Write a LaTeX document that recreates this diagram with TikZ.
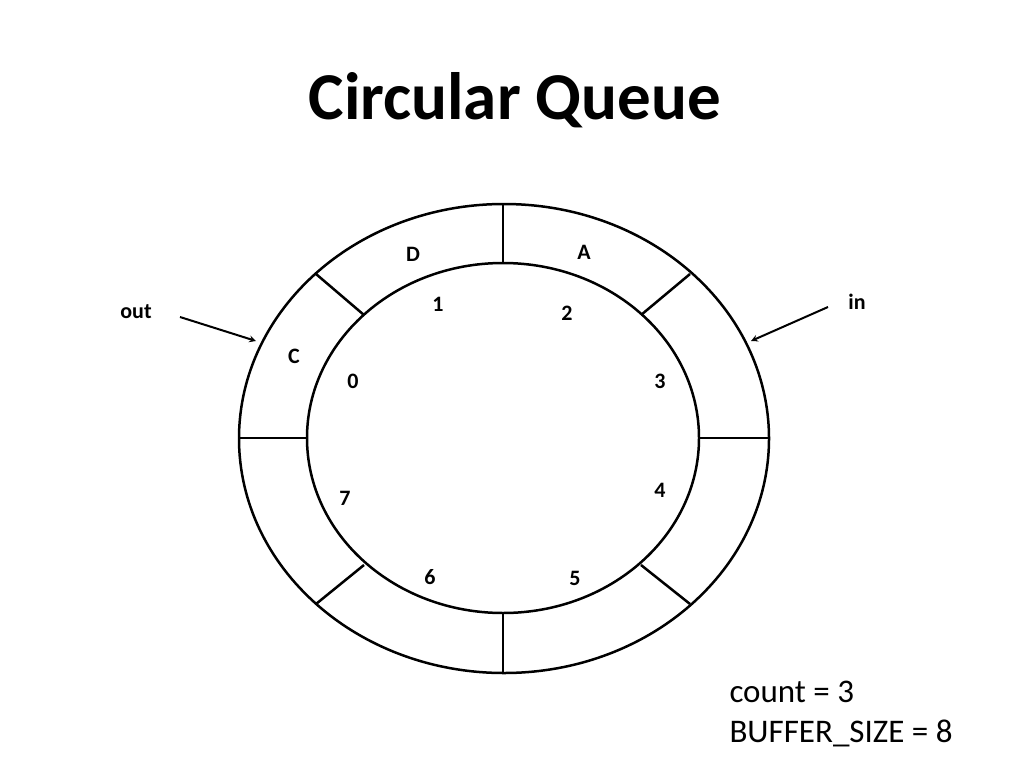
\documentclass[tikz,border=0pt]{standalone}
\usepackage{fontspec}
\setmainfont{Carlito}
\begin{document}
\begin{tikzpicture}[x=1pt,y=-1pt,
  ring/.style={line width=2.5pt},
  lbl/.style={font=\fontsize{22}{24}\selectfont\bfseries},
  arr/.style={line width=2pt,-stealth}]
\useasboundingbox (0,0) rectangle (1024,768);
\node[font=\fontsize{67}{75}\selectfont\bfseries] (title) at (515,100) {Circular Queue};
\draw[ring] (504,438.5) ellipse [x radius=265,y radius=234.5];
\draw[ring] (503,438) ellipse [x radius=196,y radius=175];
\draw[ring] (503,204) -- (503,263);
\draw[ring] (503,613) -- (503,673);
\draw[ring] (239,438) -- (307,438);
\draw[ring] (699,438) -- (769,438);
\draw[ring] (316,274) -- (364,315);
\draw[ring] (690,274) -- (641,315);
\draw[ring] (316,604) -- (364,565);
\draw[ring] (690,604) -- (641,565);
\node[lbl] (lD) at (413,254) {D};
\node[lbl] (lA) at (584,252) {A};
\node[lbl] (l1) at (438,304) {1};
\node[lbl] (l2) at (567,313) {2};
\node[lbl] (lC) at (294,356) {C};
\node[lbl] (l0) at (353,381) {0};
\node[lbl] (l3) at (660,381) {3};
\node[lbl] (l7) at (345,498) {7};
\node[lbl] (l4) at (660,490) {4};
\node[lbl] (l6) at (430,577) {6};
\node[lbl] (l5) at (575,578) {5};
\node[lbl] (out) at (136,312) {out};
\node[lbl] (in) at (857,302) {in};
\coordinate (outA) at (180,317);
\coordinate (outB) at (256,341);
\coordinate (inA) at (828,307);
\coordinate (inB) at (751,341);
\draw[arr] (outA) -- (outB);
\draw[arr] (inA) -- (inB);
\node[anchor=west,font=\fontsize{33}{36}\selectfont] (cnt) at (726,692) {count = 3};
\node[anchor=west,font=\fontsize{33}{36}\selectfont] (bs) at (726,733) {BUFFER\_SIZE = 8};
\end{tikzpicture}
\end{document}
